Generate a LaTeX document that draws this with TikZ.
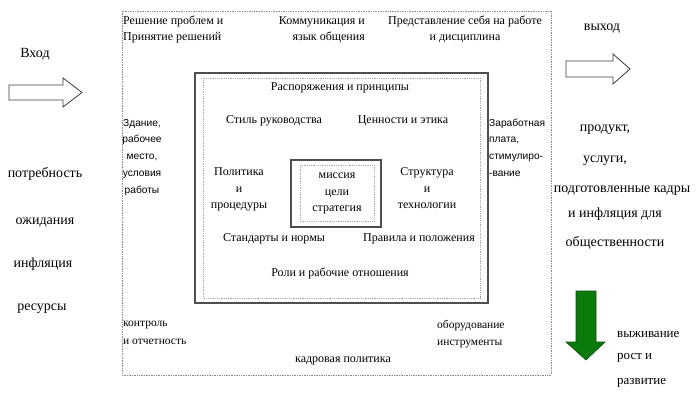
\documentclass[tikz,border=0pt]{standalone}
\usepackage{fontspec}
\setmainfont{Liberation Serif}
\setsansfont{Liberation Sans}
\usepackage{tikz}
\usetikzlibrary{positioning}
\definecolor{FrameGray}{HTML}{8C8C8C}
\definecolor{BoxGray}{HTML}{4F4F4F}
\definecolor{LineGray}{HTML}{A8A8A8}
\definecolor{ArrowEdge}{HTML}{3C3C3C}
\definecolor{GrowthGreen}{HTML}{0A7A0A}
\definecolor{GrowthEdge}{HTML}{0B4A0B}

\begin{document}
\begin{tikzpicture}[x=1pt, y=-1pt,
  inbox/.style={inner sep=0pt, font=\fontsize{12}{16.5}\selectfont, align=center, anchor=base},
  rimtext/.style={inner sep=0pt, font=\fontsize{12}{15.5}\selectfont},
  sidenote/.style={inner sep=0pt, font=\sffamily\fontsize{10.2}{16.8}\selectfont},
  flowtext/.style={inner sep=0pt, font=\fontsize{14}{17}\selectfont, anchor=base},
  hollowarrow/.style={draw=ArrowEdge, fill=white, line width=0.8pt, line join=miter},
  solidframe/.style={draw=BoxGray, line width=1.4pt},
  thinframe/.style={draw=LineGray, line width=0.8pt, densely dotted}
]
\useasboundingbox (0,0) rectangle (696,405);

% environment frame
\draw[draw=FrameGray, line width=0.7pt, densely dotted] (122,11) rectangle (551,375);

% organisation box and core box
\draw[solidframe] (195,73) rectangle (488,303);
\draw[thinframe] (203,78) rectangle (480,298);
\draw[solidframe] (291,160) rectangle (381,227);
\draw[thinframe] (300,165) rectangle (374,221);

% environment texts (base = last line)
\node[rimtext, anchor=base west, align=left] (decide) at (123,40) {Решение проблем и\\Принятие решений};
\node[rimtext, anchor=base east, align=right] (comm) at (365,40) {Коммуникация и\\язык общения};
\node[rimtext, anchor=base, align=center] (present) at (465,40) {Представление себя на работе\\и дисциплина};
\node[sidenote, anchor=base, align=center] (building) at (142,193.3) {Здание,\\рабочее\\место,\\условия\\работы};
\node[sidenote, anchor=base west, align=left] (salary) at (489,176.5) {Заработная\\плата,\\стимулиро-\\-вание};
\node[rimtext, anchor=base west, align=left, font=\fontsize{11.5}{18}\selectfont] (control) at (123,344.5) {контроль\\и отчетность};
\node[rimtext, anchor=base west, align=left, font=\fontsize{11.5}{17}\selectfont] (equipment) at (437,345.5) {оборудование\\инструменты};
\node[rimtext, anchor=base] (staffpol) at (343,362.5) {кадровая политика};

% organisation texts
\node[inbox] (orders) at (340,90.5) {Распоряжения и принципы};
\node[inbox] (leadstyle) at (274,123.5) {Стиль руководства};
\node[inbox] (values) at (403,123.5) {Ценности и этика};
\node[inbox] (policy) at (239,208.5) {Политика\\и\\процедуры};
\node[inbox] (structure) at (427,208.5) {Структура\\и\\технологии};
\node[inbox] (mission) at (337,211.5) {миссия\\цели\\стратегия};
\node[inbox] (standards) at (274,241.5) {Стандарты и нормы};
\node[inbox] (rules) at (419,241.5) {Правила и положения};
\node[inbox] (roles) at (340,276.5) {Роли и рабочие отношения};

% input side
\node[flowtext] (input) at (35,57) {Вход};
\draw[hollowarrow] (9,85) -- (63,85) -- (63,78) -- (82,92.5) -- (63,107) -- (63,100) -- (9,100) -- cycle;
\node[flowtext] (need) at (45,177) {потребность};
\node[flowtext] (expect) at (45,224) {ожидания};
\node[flowtext] (inflation) at (43,267) {инфляция};
\node[flowtext] (resources) at (42,310) {ресурсы};

% output side
\node[flowtext] (output) at (602,30) {выход};
\draw[hollowarrow] (566,61) -- (613,61) -- (613,54) -- (630,69) -- (613,84) -- (613,77) -- (566,77) -- cycle;
\node[flowtext] (product) at (605,131) {продукт,};
\node[flowtext] (services) at (605,162) {услуги,};
\node[flowtext] (staff) at (622,192) {подготовленные кадры};
\node[flowtext] (publicinfl) at (615,217) {и инфляция для};
\node[flowtext] (society) at (615,246) {общественности};

% growth
\draw[draw=GrowthEdge, fill=GrowthGreen, line width=0.6pt] (576,291) -- (596,291) -- (596,342) -- (605,342) -- (586,360) -- (566,342) -- (576,342) -- cycle;
\node[flowtext, anchor=base west, font=\fontsize{13}{17}\selectfont] (survival) at (617,337) {выживание};
\node[flowtext, anchor=base west, font=\fontsize{13}{17}\selectfont] (growth) at (617,359) {рост и};
\node[flowtext, anchor=base west, font=\fontsize{13}{17}\selectfont] (develop) at (617,384) {развитие};

\end{tikzpicture}
\end{document}
